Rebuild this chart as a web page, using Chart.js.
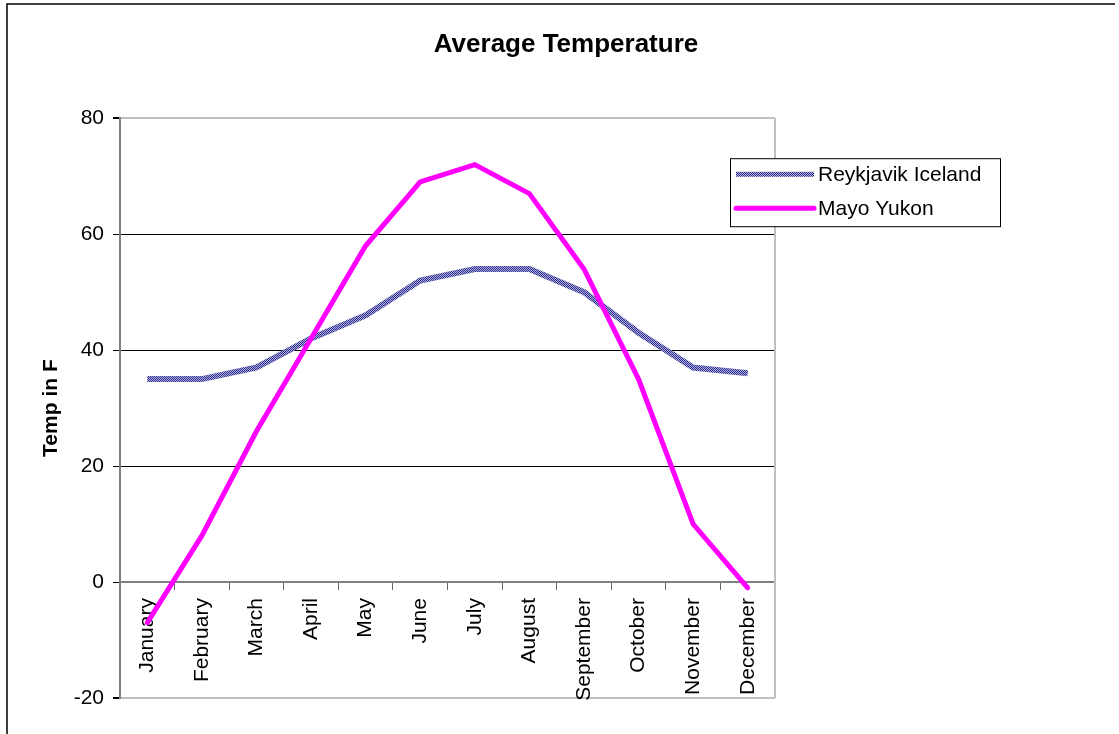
<!DOCTYPE html>
<html>
<head>
<meta charset="utf-8">
<script src="https://cdn.jsdelivr.net/npm/chart.js@4.4.1/dist/chart.umd.min.js"></script>
<style>
  body { margin: 0; background: #fff; }
  canvas { display: block; }
</style>
</head>
<body>
<canvas id="myChart" width="1119" height="734"></canvas>
<script>
// Chart values
const months = ["January", "February", "March", "April", "May", "June",
  "July", "August", "September", "October", "November", "December"];
const reykjavik = [35, 35, 37, 42, 46, 52, 54, 54, 50, 43, 37, 36];
const mayo = [-7, 8, 26, 42, 58, 69, 72, 67, 54, 35, 10, -1];
const yMin = -20;
const yMax = 80;
const yStep = 20;

Chart.defaults.font.family = "'Liberation Sans', Arial, sans-serif";
Chart.defaults.font.size = 21;
Chart.defaults.color = "#000";

// Checkered pattern for the Reykjavik line
function makePattern() {
  const c = document.createElement("canvas");
  c.width = 2;
  c.height = 2;
  const g = c.getContext("2d");
  g.fillStyle = "#b0b0de";
  g.fillRect(0, 0, 2, 2);
  g.fillStyle = "#2e2e8e";
  g.fillRect(0, 0, 1, 1);
  g.fillRect(1, 1, 1, 1);
  return g.createPattern(c, "repeat");
}
const reykPattern = makePattern();

// Outer frame, plot border and the boxed legend
const framePlugin = {
  id: "frame",
  beforeDraw(chart) {
    const ctx = chart.ctx;
    ctx.save();
    ctx.fillStyle = "#fff";
    ctx.fillRect(0, 0, chart.width, chart.height);
    ctx.strokeStyle = "#000";
    ctx.lineWidth = 1.5;
    ctx.beginPath();
    ctx.moveTo(7, chart.height);
    ctx.lineTo(7, 4);
    ctx.lineTo(chart.width - 4, 4);
    ctx.stroke();
    ctx.restore();
  },
  beforeDatasetsDraw(chart) {
    const a = chart.chartArea;
    const ctx = chart.ctx;
    ctx.save();
    ctx.strokeStyle = "#c0c0c0";
    ctx.lineWidth = 2;
    ctx.beginPath();
    ctx.moveTo(a.right, a.top);
    ctx.lineTo(a.right, a.bottom);
    ctx.stroke();
    ctx.restore();
  },
  afterDraw(chart) {
    const a = chart.chartArea;
    const ctx = chart.ctx;
    const left = a.right - 45;
    const top = a.top + 40;
    const w = 270;
    const h = 68;
    ctx.save();
    ctx.fillStyle = "#fff";
    ctx.fillRect(left, top, w, h);
    ctx.strokeStyle = "#000";
    ctx.lineWidth = 1;
    ctx.strokeRect(left + 0.5, top + 0.5, w, h);
    ctx.font = "21px 'Liberation Sans', Arial, sans-serif";
    ctx.textBaseline = "middle";
    chart.data.datasets.forEach((ds, i) => {
      const y = top + 16 + i * 34;
      ctx.strokeStyle = ds.borderColor;
      ctx.lineWidth = 5;
      ctx.lineCap = ds.borderCapStyle || "butt";
      ctx.beginPath();
      ctx.moveTo(left + 6, y);
      ctx.lineTo(left + 84, y);
      ctx.stroke();
      ctx.fillStyle = "#000";
      ctx.fillText(ds.label, left + 88, y + 1);
    });
    ctx.restore();
  },
};

new Chart(document.getElementById("myChart"), {
  type: "line",
  data: {
    labels: months,
    datasets: [
      {
        label: "Reykjavik Iceland",
        data: reykjavik,
        borderColor: reykPattern,
        borderWidth: 6,
        pointRadius: 0,
        tension: 0,
        order: 1,
      },
      {
        label: "Mayo Yukon",
        data: mayo,
        borderColor: "#ff00ff",
        borderWidth: 5,
        borderCapStyle: "round",
        pointRadius: 0,
        tension: 0,
        order: 0,
      },
    ],
  },
  options: {
    responsive: false,
    devicePixelRatio: 1,
    animation: false,
    layout: { padding: { left: 13, right: 0, top: 0, bottom: 36 } },
    plugins: {
      legend: { display: false },
      tooltip: { enabled: false },
      title: {
        display: true,
        text: "Average Temperature",
        color: "#000",
        font: { size: 26, weight: "bold" },
        padding: { top: 29, bottom: 58 },
      },
    },
    scales: {
      x: {
        type: "category",
        position: { y: 0 },
        offset: true,
        grid: {
          offset: true,
          drawOnChartArea: false,
          tickLength: 7,
          color: "#666",
        },
        border: { color: "#808080", width: 2 },
        ticks: {
          minRotation: 90,
          maxRotation: 90,
          autoSkip: false,
          padding: 9,
          color: "#000",
        },
      },
      y: {
        min: yMin,
        max: yMax,
        ticks: { stepSize: yStep, padding: 9, color: "#000" },
        grid: {
          color: (c) => {
            const v = c.tick ? c.tick.value : null;
            if (v === yMin || v === yMax) return "#c0c0c0";
            if (v === 0) return "#808080";
            return "#000";
          },
          lineWidth: (c) => {
            const v = c.tick ? c.tick.value : null;
            return v === yMin || v === yMax ? 2 : 1;
          },
          tickLength: 7,
          tickColor: "#000",
        },
        border: { color: "#808080", width: 2 },
        title: {
          display: true,
          text: "Temp in F",
          color: "#000",
          font: { size: 21, weight: "bold" },
          padding: { top: 26, bottom: 0 },
        },
        afterFit(scale) {
          scale.width = 107;
        },
      },
      y2: {
        type: "linear",
        position: "right",
        grid: { display: false },
        border: { display: false },
        ticks: { display: false },
        afterFit(scale) {
          scale.width = 1119 - 775;
        },
      },
    },
  },
  plugins: [framePlugin],
});
</script>
</body>
</html>
